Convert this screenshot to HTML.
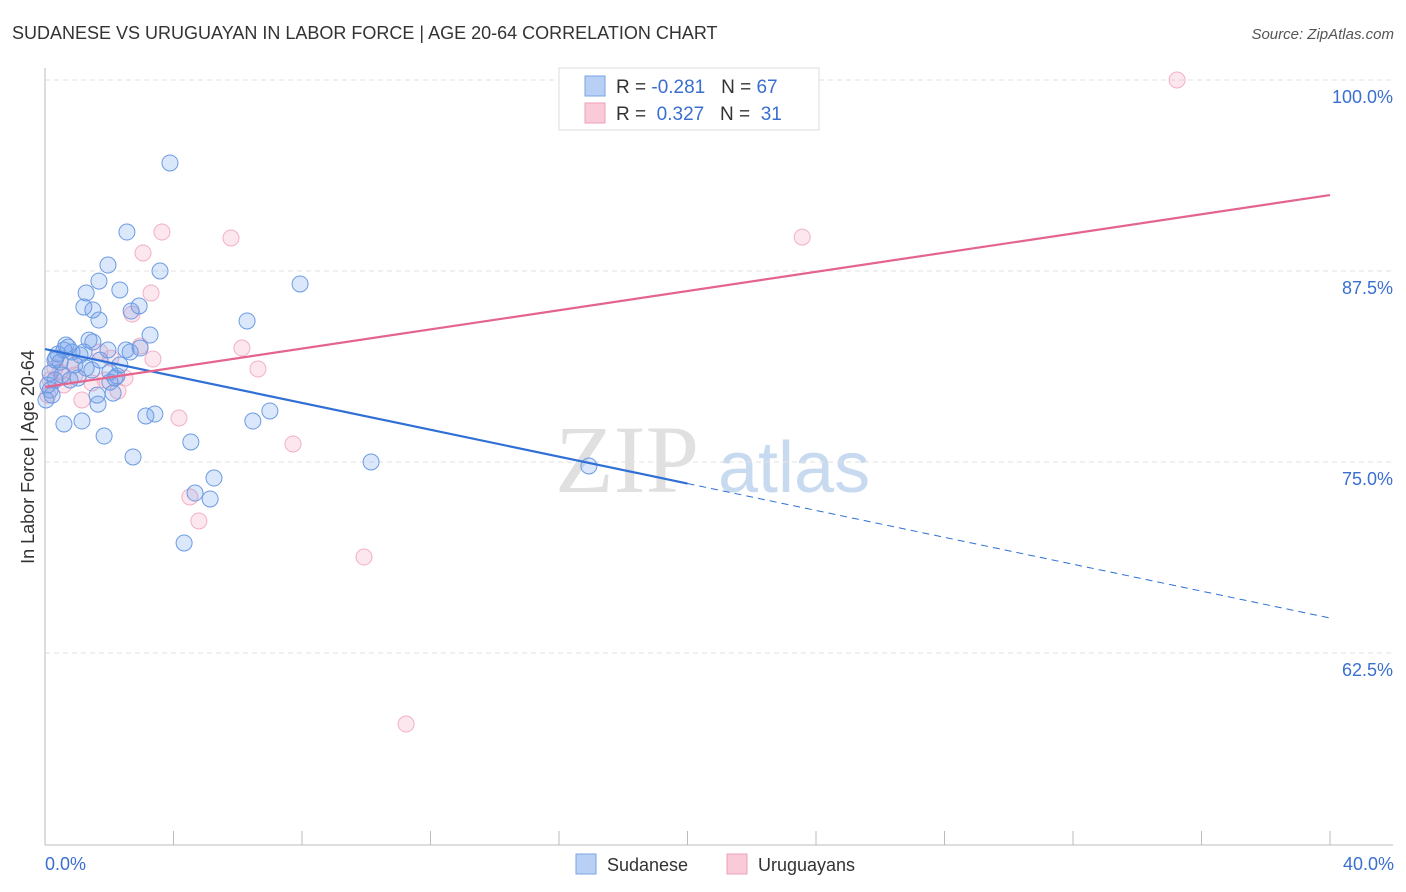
<!DOCTYPE html>
<html><head><meta charset="utf-8"><style>
body{margin:0;background:#fff;font-family:"Liberation Sans",sans-serif;}
svg{display:block}
</style></head><body>
<svg id="c" width="1406" height="892" xmlns="http://www.w3.org/2000/svg">
<text x="12" y="39" font-size="18" fill="#333">SUDANESE VS URUGUAYAN IN LABOR FORCE | AGE 20-64 CORRELATION CHART</text>
<text x="1394" y="39" font-size="15" fill="#555" font-style="italic" text-anchor="end">Source: ZipAtlas.com</text>
<text x="555" y="492" font-size="96" fill="#e0e0e0" font-family="Liberation Serif,serif">ZIP</text>
<text x="718" y="492" font-size="72" fill="#c8daf0">atlas</text>
<g id="grid"></g><g id="axes"></g><g id="pts"></g><g id="lines"></g>
<text transform="translate(34,457) rotate(-90)" font-size="18" fill="#333" text-anchor="middle">In Labor Force | Age 20-64</text>
<text x="45" y="870" font-size="18" fill="#3a6fd0">0.0%</text>
<text x="1394" y="870" font-size="18" fill="#3a6fd0" text-anchor="end">40.0%</text>
<g>
<rect x="559" y="68" width="260" height="62" fill="#fff" stroke="#ddd"/>
<rect x="585" y="76" width="20" height="20" fill="#b8d0f4" stroke="#7aa3e6"/>
<rect x="585" y="103" width="20" height="20" fill="#f9cad8" stroke="#eea0b8"/>
<text x="616" y="93" font-size="19" fill="#333" xml:space="preserve">R = <tspan fill="#3a6fd0">-0.281</tspan>   N = <tspan fill="#3a6fd0">67</tspan></text>
<text x="616" y="120" font-size="19" fill="#333" xml:space="preserve">R =  <tspan fill="#3a6fd0">0.327</tspan>   N =  <tspan fill="#3a6fd0">31</tspan></text>
</g>
<g>
<rect x="576" y="854" width="20" height="20" fill="#b8d0f4" stroke="#7aa3e6"/>
<text x="607" y="871" font-size="18" fill="#333">Sudanese</text>
<rect x="727" y="854" width="20" height="20" fill="#f9cad8" stroke="#eea0b8"/>
<text x="758" y="871" font-size="18" fill="#333">Uruguayans</text>
</g>
</svg>
<script>
const yTicks=[100,87.5,75,62.5];
const yTickLabels=["100.0%","87.5%","75.0%","62.5%"];
const sudX=[3.89,2.55,1.96,3.58,1.68,1.28,2.33,7.94,1.21,1.49,2.93,2.68,1.68,6.29,3.27,1.37,1.49,0.72,0.59,0.40,0.84,1.21,1.96,2.52,2.96,0.31,0.47,0.93,1.46,2.02,2.24,0.16,1.03,0.31,2.02,2.18,0.16,1.62,2.12,1.65,3.42,3.14,7.00,6.47,1.15,0.59,1.84,4.54,2.74,10.15,16.93,5.26,4.67,5.14,4.33,0.09,0.22,0.53,0.78,1.28,1.71,2.65,0.03,0.34,0.65,1.09,2.33];
const sudY=[94.57,90.05,87.89,87.5,86.84,86.06,86.26,86.65,85.14,84.95,85.21,84.88,84.29,84.23,83.31,82.98,82.85,82.52,82.33,82.07,82.2,82.2,82.33,82.33,82.46,81.67,81.54,81.35,81.02,80.89,80.63,80.82,80.5,80.37,80.23,80.5,79.71,79.38,79.51,78.79,78.14,78.01,78.34,77.68,77.68,77.49,76.7,76.31,75.33,75.0,74.74,73.95,72.97,72.58,69.7,80.04,79.38,80.69,80.37,81.15,81.67,82.2,79.06,81.8,82.66,82.0,81.35];
const uruX=[35.24,3.64,5.79,3.05,23.57,3.30,2.71,6.13,2.96,3.36,6.63,2.05,1.71,0.31,0.78,2.49,1.46,2.27,1.15,0.59,0.09,4.17,7.72,4.51,4.79,9.93,11.24,0.16,0.47,0.93,1.87];
const uruY=[100.0,90.05,89.66,88.68,89.72,86.06,84.68,82.46,82.59,81.74,81.09,81.8,82.2,81.15,81.54,80.5,80.17,79.64,79.06,80.04,79.38,77.88,76.18,72.71,71.14,68.78,57.85,80.37,80.89,80.69,80.37];
const sudTrend=[82.39,64.79];
const uruTrend=[79.91,92.47];
const NS="http://www.w3.org/2000/svg";
const X=v=>45+v/40*1285, Y=v=>80+(100-v)/12.5*191;
function mk(t,a,p){const e=document.createElementNS(NS,t);for(const k in a)e.setAttribute(k,a[k]);document.getElementById(p).appendChild(e);return e;}
yTicks.forEach((t,i)=>{
 const g=mk('line',{x1:45,x2:1393,y1:Y(t),y2:Y(t),stroke:'#e2e2e2','stroke-dasharray':'5,4'},'grid');
 
 
 const l=mk('text',{x:1393,y:Y(t)+23,'font-size':18,fill:'#3a6fd0','text-anchor':'end'},'grid');
 l.textContent=yTickLabels[i];
 
 
});
const ax=mk('line',{x1:45,x2:45,y1:68,y2:845,stroke:'#bbb'},'axes');


const bx=mk('line',{x1:45,x2:1393,y1:845,y2:845,stroke:'#bbb'},'axes');


for(let i=0;i<=10;i++){const t=mk('line',{x1:X(i*4),x2:X(i*4),y1:831,y2:845,stroke:'#bbb'},'axes');
 
 }
uruX.forEach((v,i)=>{const c=mk('circle',{cx:X(v),cy:Y(uruY[i]),r:8,fill:'rgba(244,160,188,0.25)',stroke:'#f3b0c5','stroke-width':1},'pts');
 
 });
sudX.forEach((v,i)=>{const c=mk('circle',{cx:X(v),cy:Y(sudY[i]),r:8,fill:'rgba(110,160,235,0.25)',stroke:'#6b9be3','stroke-width':1},'pts');
 
 });
const mid=sudTrend[0]+(sudTrend[1]-sudTrend[0])*0.5;
const b1=mk('line',{x1:X(0),y1:Y(sudTrend[0]),x2:X(20),y2:Y(mid),stroke:'#2f6fd6','stroke-width':2.2},'lines');


const b2=mk('line',{x1:X(20),y1:Y(mid),x2:X(40),y2:Y(sudTrend[1]),stroke:'#2f6fd6','stroke-width':1,'stroke-dasharray':'7,5'},'lines');


const p1=mk('line',{x1:X(0),y1:Y(uruTrend[0]),x2:X(40),y2:Y(uruTrend[1]),stroke:'#e4648e','stroke-width':2.2},'lines');


</script>
</body></html>
